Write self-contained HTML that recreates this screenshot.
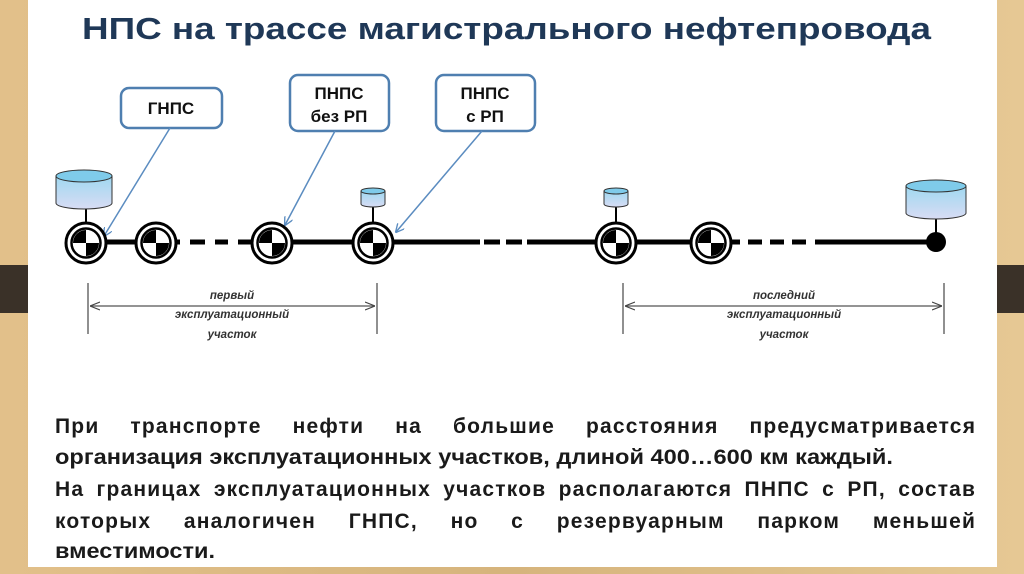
<!DOCTYPE html>
<html><head><meta charset="utf-8"><style>
html,body{margin:0;padding:0;width:1024px;height:574px;overflow:hidden;background:#d9b57e}
svg{display:block;position:absolute;left:0;top:0}
.ln{position:absolute;left:55px;width:920px;display:flex;justify-content:space-between;font-family:"Liberation Sans",sans-serif;font-weight:bold;font-size:21px;letter-spacing:1.2px;line-height:22px;color:#1a1a1a;white-space:nowrap}
.ln span:last-child{letter-spacing:1.2px;margin-right:-1.2px}
</style></head><body>
<svg width="1024" height="574" viewBox="0 0 1024 574" xmlns="http://www.w3.org/2000/svg">
<defs>
<linearGradient id="wood" x1="0" y1="0" x2="1" y2="0">
<stop offset="0" stop-color="#e2c08a"/><stop offset="0.5" stop-color="#d6b47c"/><stop offset="1" stop-color="#e6c894"/>
</linearGradient>
<linearGradient id="tank" x1="0" y1="0" x2="0" y2="1">
<stop offset="0" stop-color="#9fd8f0"/><stop offset="1" stop-color="#d8dcf4"/>
</linearGradient>
<g id="st">
<circle r="20" fill="#fff" stroke="#000" stroke-width="3"/>
<circle r="14.5" fill="#fff" stroke="#000" stroke-width="2.5"/>
<path d="M0,0 L-13,0 A13,13 0 0 1 0,-13 Z" fill="#000"/>
<path d="M0,0 L13,0 A13,13 0 0 1 0,13 Z" fill="#000"/>
</g>
<marker id="ah" viewBox="0 0 10 10" refX="9" refY="5" markerWidth="9" markerHeight="9" orient="auto" markerUnits="userSpaceOnUse">
<path d="M0,0 L10,5 L0,10" fill="none" stroke="#5b8cc0" stroke-width="1.5"/>
</marker>
<marker id="dh" viewBox="0 0 10 10" refX="10" refY="5" markerWidth="10" markerHeight="10" orient="auto-start-reverse" markerUnits="userSpaceOnUse">
<path d="M0,1 L10,5 L0,9" fill="none" stroke="#444" stroke-width="1.2"/>
</marker>
</defs>
<rect x="0" y="0" width="1024" height="574" fill="url(#wood)"/>
<rect x="0" y="265" width="28" height="48" fill="#3a3128"/>
<rect x="997" y="265" width="27" height="48" fill="#3a3128"/>
<rect x="28" y="0" width="969" height="567" fill="#fff"/>

<text x="82" y="39" font-family="Liberation Sans, sans-serif" font-weight="bold" font-size="31" fill="#1f3857" textLength="849" lengthAdjust="spacingAndGlyphs">НПС на трассе магистрального нефтепровода</text>

<g fill="#fff" stroke="#4f7fb0" stroke-width="2.5">
<rect x="121" y="88" width="101" height="40" rx="8"/>
<rect x="290" y="75" width="99" height="56" rx="8"/>
<rect x="436" y="75" width="99" height="56" rx="8"/>
</g>
<g font-family="Liberation Sans, sans-serif" font-weight="bold" font-size="17" fill="#111" text-anchor="middle">
<text x="171" y="114">ГНПС</text>
<text x="339" y="99">ПНПС</text>
<text x="339" y="122">без РП</text>
<text x="485" y="99">ПНПС</text>
<text x="485" y="122">с РП</text>
</g>
<g stroke="#5b8cc0" stroke-width="1.5" fill="none">
<line x1="170" y1="128" x2="104" y2="236" marker-end="url(#ah)"/>
<line x1="335" y1="131" x2="285" y2="225" marker-end="url(#ah)"/>
<line x1="482" y1="131" x2="396" y2="232" marker-end="url(#ah)"/>
</g>

<g stroke="#000" stroke-width="5">
<line x1="86" y1="242" x2="180" y2="242"/>
<line x1="190" y1="242" x2="205" y2="242"/>
<line x1="215" y1="242" x2="228" y2="242"/>
<line x1="238" y1="242" x2="272" y2="242"/>
<line x1="272" y1="242" x2="480" y2="242"/>
<line x1="484" y1="242" x2="500" y2="242"/>
<line x1="506" y1="242" x2="522" y2="242"/>
<line x1="527" y1="242" x2="740" y2="242"/>
<line x1="748" y1="242" x2="762" y2="242"/>
<line x1="770" y1="242" x2="784" y2="242"/>
<line x1="792" y1="242" x2="806" y2="242"/>
<line x1="815" y1="242" x2="936" y2="242"/>
</g>
<g stroke="#000" stroke-width="2">
<line x1="86" y1="206" x2="86" y2="222"/>
<line x1="373" y1="205" x2="373" y2="222"/>
<line x1="616" y1="205" x2="616" y2="222"/>
<line x1="936" y1="216" x2="936" y2="236"/>
</g>
<circle cx="936" cy="242" r="10" fill="#000"/>
<use href="#st" x="86" y="243"/>
<use href="#st" x="156" y="243"/>
<use href="#st" x="272" y="243"/>
<use href="#st" x="373" y="243"/>
<use href="#st" x="616" y="243"/>
<use href="#st" x="711" y="243"/>

<g stroke="#333" stroke-width="1">
<path d="M56,176 V203 A28,6 0 0 0 112,203 V176" fill="url(#tank)"/>
<ellipse cx="84" cy="176" rx="28" ry="6" fill="#7fcbea"/>
<path d="M906,186 V213 A30,6 0 0 0 966,213 V186" fill="url(#tank)"/>
<ellipse cx="936" cy="186" rx="30" ry="6" fill="#7fcbea"/>
<path d="M361,191 V204 A12,3 0 0 0 385,204 V191" fill="url(#tank)"/>
<ellipse cx="373" cy="191" rx="12" ry="3" fill="#7fcbea"/>
<path d="M604,191 V204 A12,3 0 0 0 628,204 V191" fill="url(#tank)"/>
<ellipse cx="616" cy="191" rx="12" ry="3" fill="#7fcbea"/>
</g>

<g stroke="#555" stroke-width="1.3">
<line x1="88" y1="283" x2="88" y2="334"/>
<line x1="377" y1="283" x2="377" y2="334"/>
<line x1="90" y1="306" x2="375" y2="306" marker-start="url(#dh)" marker-end="url(#dh)"/>
<line x1="623" y1="283" x2="623" y2="334"/>
<line x1="944" y1="283" x2="944" y2="334"/>
<line x1="625" y1="306" x2="942" y2="306" marker-start="url(#dh)" marker-end="url(#dh)"/>
</g>
<g font-family="Liberation Sans, sans-serif" font-weight="bold" font-style="italic" font-size="11.5" fill="#333" text-anchor="middle">
<text x="232" y="299">первый</text>
<text x="232" y="318">эксплуатационный</text>
<text x="232" y="338">участок</text>
<text x="784" y="299">последний</text>
<text x="784" y="318">эксплуатационный</text>
<text x="784" y="338">участок</text>
</g>

<g font-family="Liberation Sans, sans-serif" font-weight="bold" font-size="21" fill="#1a1a1a">
<text x="55" y="464" textLength="838" lengthAdjust="spacingAndGlyphs">организация эксплуатационных участков, длиной 400…600 км каждый.</text>
<text x="55" y="558" textLength="160" lengthAdjust="spacingAndGlyphs">вместимости.</text>
</g>
</svg>
<div class="ln" style="top:416px"><span>При</span><span>транспорте</span><span>нефти</span><span>на</span><span>большие</span><span>расстояния</span><span>предусматривается</span></div>
<div class="ln" style="top:479px"><span>На</span><span>границах</span><span>эксплуатационных</span><span>участков</span><span>располагаются</span><span>ПНПС</span><span>с</span><span>РП,</span><span>состав</span></div>
<div class="ln" style="top:511px"><span>которых</span><span>аналогичен</span><span>ГНПС,</span><span>но</span><span>с</span><span>резервуарным</span><span>парком</span><span>меньшей</span></div>
</body></html>
